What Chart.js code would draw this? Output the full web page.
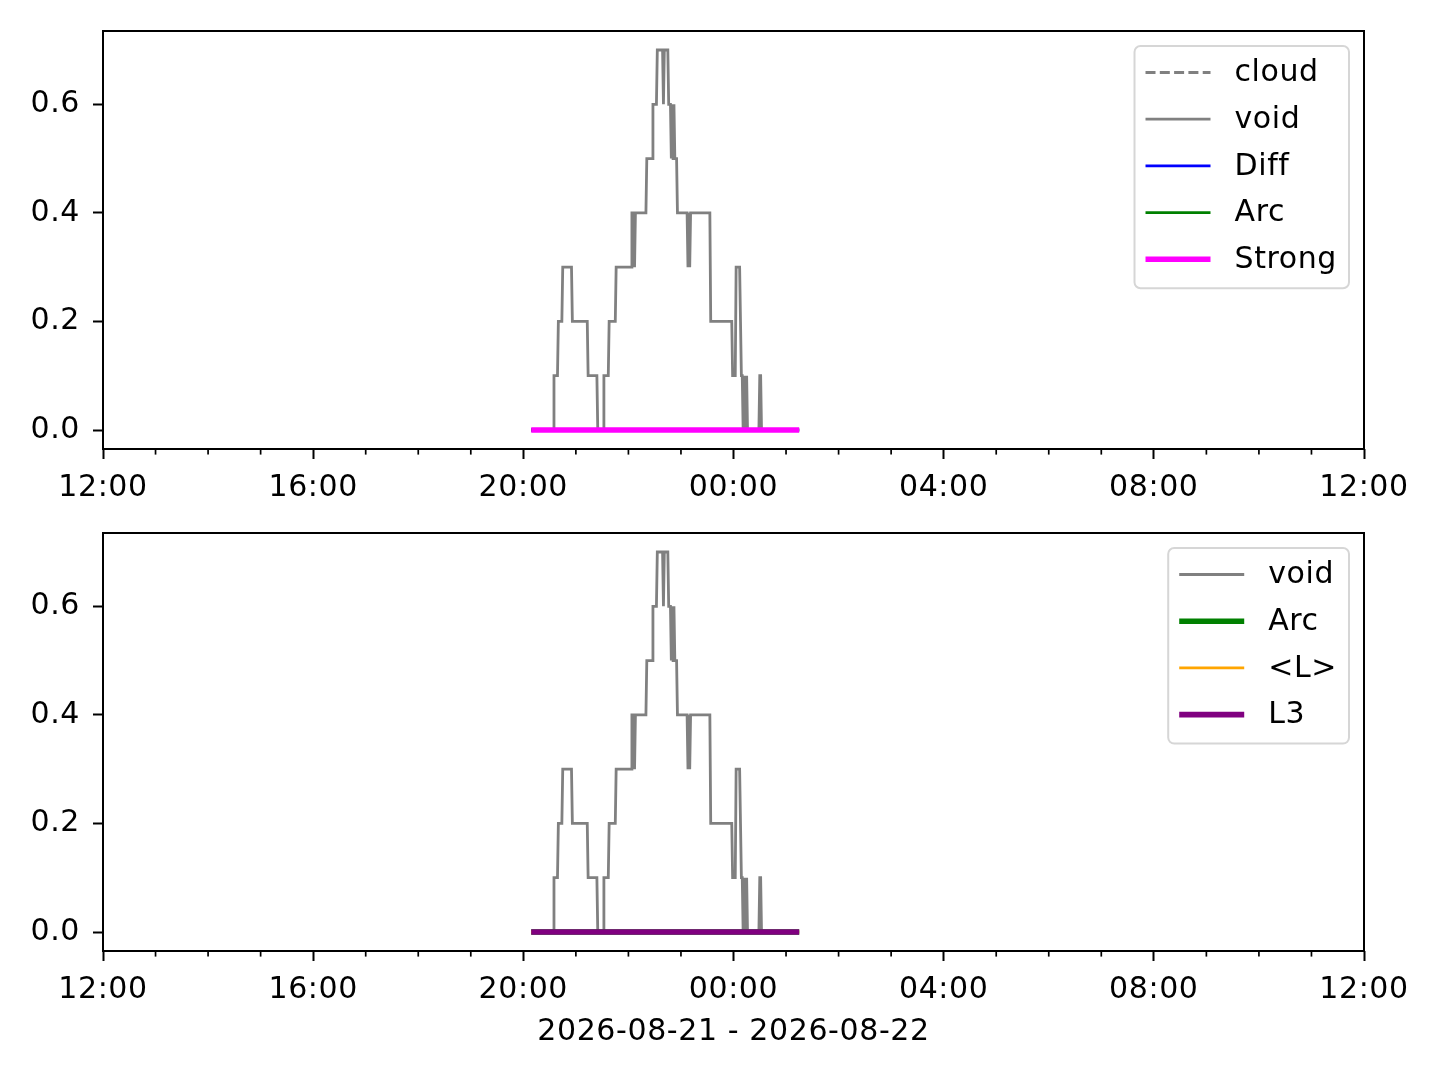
<!DOCTYPE html>
<html>
<head>
<meta charset="utf-8">
<script src="https://cdn.jsdelivr.net/npm/chart.js@4.4.1/dist/chart.umd.min.js"></script>
<style>
  html, body { margin: 0; padding: 0; background: #fff; }
  body { width: 1440px; height: 1080px; position: relative; overflow: hidden; }
  canvas { position: absolute; left: 0; }
  #topChart { top: 0; }
  #bottomChart { top: 520px; }
</style>
</head>
<body>
<canvas id="topChart" width="1440" height="520"></canvas>
<canvas id="bottomChart" width="1440" height="560"></canvas>
<script>
// time axis in minutes after 12:00 (window is 12:00 -> 12:00 next day)
const T0 = 480; // 20:00
const xTickMinutes = [0, 240, 480, 720, 960, 1200, 1440];
const xTickLabels = ["12:00", "16:00", "20:00", "00:00", "04:00", "08:00", "12:00"];
const yTicks = [0, 0.2, 0.4, 0.6];
const yTickLabels = ["0.0", "0.2", "0.4", "0.6"];
const xTitle = "2026-08-21 - 2026-08-22";

// void series, corner points (minutes after 20:00)
const voidMinutes = [
  9, 34, 35, 39, 40, 44, 45, 55, 56, 73, 74, 84, 85, 91, 92, 97, 98, 105, 106,
  123, 124, 126, 127, 128, 140, 141, 147, 148, 152, 153, 159, 160, 161, 165,
  166, 168, 169, 170, 171, 172, 173, 175, 176, 187, 188, 189, 190, 191, 213,
  214, 238, 239, 242, 243, 247, 248, 249, 250, 251, 252, 253, 254, 255, 256,
  269, 270, 271, 272, 315,
];
const voidValues = [
  0, 0, 0.1, 0.1, 0.2, 0.2, 0.3, 0.3, 0.2, 0.2, 0.1, 0.1, 0, 0, 0.1, 0.1, 0.2, 0.2, 0.3,
  0.3, 0.4, 0.4, 0.3, 0.4, 0.4, 0.5, 0.5, 0.6, 0.6, 0.7, 0.7, 0.6, 0.7, 0.7,
  0.6, 0.6, 0.5, 0.6, 0.5, 0.6, 0.5, 0.5, 0.4, 0.4, 0.3, 0.4, 0.3, 0.4, 0.4,
  0.2, 0.2, 0.1, 0.1, 0.3, 0.3, 0.2, 0.1, 0.1, 0, 0.1, 0.1, 0, 0.1, 0,
  0, 0.1, 0.1, 0, 0,
];

// the flag series sit flat on zero over the same span
const flatMinutes = [9, 315];
const flatValues = [0, 0];

const FONT = "'DejaVu Sans', sans-serif";
const FS = 30;
const SPACING = "0.6px"; // matplotlib's glyph advance is a bit wider

function points(mins, vals) {
  return mins.map((m, i) => ({ x: T0 + m, y: vals[i] }));
}

function line(label, color, width, mins, vals, dash) {
  return {
    label: label,
    data: points(mins, vals),
    borderColor: color,
    backgroundColor: color,
    borderWidth: width,
    borderDash: dash || [],
    pointRadius: 0,
    tension: 0,
    fill: false,
  };
}

const spacingPlugin = {
  id: "spacing",
  beforeDraw(chart) {
    chart.ctx.letterSpacing = SPACING;
  },
};

// frame + minor hour ticks
const framePlugin = {
  id: "frame",
  afterDraw(chart) {
    const { ctx, chartArea: a } = chart;
    const xs = chart.scales.x;
    ctx.save();
    ctx.strokeStyle = "#000";
    ctx.lineWidth = 1.7;
    for (let h = 0; h <= 24; h++) {
      if (h % 4 === 0) continue;
      const px = xs.getPixelForValue(h * 60);
      ctx.beginPath();
      ctx.moveTo(px, a.bottom);
      ctx.lineTo(px, a.bottom + 5.6);
      ctx.stroke();
    }
    ctx.lineWidth = 2;
    ctx.strokeRect(a.left, a.top, a.right - a.left, a.bottom - a.top);
    ctx.restore();
  },
};

// matplotlib style legend box, upper right
const legendPlugin = {
  id: "mplLegend",
  afterDraw(chart) {
    const { ctx, chartArea: a } = chart;
    const ds = chart.data.datasets;
    ctx.save();
    ctx.letterSpacing = SPACING;
    ctx.font = FS + "px " + FONT;
    const textW = Math.max(...ds.map((d) => ctx.measureText(d.label).width));
    const w = 11 + 65 + 24 + textW + 12;
    const rowH = 46.7;
    const h = 26.5 + rowH * (ds.length - 1) + 29;
    const x = a.right - 15 - w;
    const y = a.top + 15;
    ctx.beginPath();
    ctx.roundRect(x, y, w, h, 6);
    ctx.fillStyle = "rgba(255,255,255,0.8)";
    ctx.fill();
    ctx.strokeStyle = "#d6d6d6";
    ctx.lineWidth = 2;
    ctx.stroke();
    ds.forEach((d, i) => {
      const cy = y + 26.5 + i * rowH;
      ctx.beginPath();
      ctx.setLineDash(d.borderDash);
      ctx.strokeStyle = d.borderColor;
      ctx.lineWidth = d.borderWidth;
      ctx.moveTo(x + 11, cy);
      ctx.lineTo(x + 76, cy);
      ctx.stroke();
      ctx.setLineDash([]);
      ctx.fillStyle = "#000";
      ctx.textBaseline = "middle";
      ctx.fillText(d.label, x + 100, cy + 1);
    });
    ctx.restore();
  },
};

function makeChart(canvasId, datasets, pad, axisH, withTitle) {
  // later series drawn on top, like the original plot order
  datasets.forEach((d, i) => (d.order = datasets.length - 1 - i));
  return new Chart(document.getElementById(canvasId), {
    type: "line",
    data: { datasets: datasets },
    plugins: [spacingPlugin, framePlugin, legendPlugin],
    options: {
      responsive: false,
      animation: false,
      events: [],
      layout: { padding: pad },
      plugins: { legend: { display: false }, tooltip: { enabled: false } },
      scales: {
        x: {
          type: "linear",
          min: 0,
          max: 1440,
          afterBuildTicks: (s) => (s.ticks = xTickMinutes.map((v) => ({ value: v }))),
          afterFit: (s) => {
            s.height = axisH;
            s.paddingLeft = 0;
            s.paddingRight = 0;
          },
          ticks: {
            autoSkip: false,
            maxRotation: 0,
            padding: 11,
            color: "#000",
            font: { family: FONT, size: FS },
            callback: (v, i) => xTickLabels[i],
          },
          grid: { drawOnChartArea: false, drawTicks: true, tickLength: 10, tickColor: "#000", tickWidth: 2 },
          border: { display: false },
          title: {
            display: withTitle,
            text: xTitle,
            color: "#000",
            font: { family: FONT, size: FS },
            padding: { top: 0, bottom: 30 },
          },
        },
        y: {
          type: "linear",
          min: -0.035,
          max: 0.735,
          afterBuildTicks: (s) => (s.ticks = yTicks.map((v) => ({ value: v }))),
          afterFit: (s) => {
            s.width = 103;
            s.paddingTop = 0;
            s.paddingBottom = 0;
          },
          ticks: {
            padding: 13,
            color: "#000",
            font: { family: FONT, size: FS },
            callback: (v, i) => yTickLabels[i],
          },
          grid: { drawOnChartArea: false, drawTicks: true, tickLength: 10, tickColor: "#000", tickWidth: 2 },
          border: { display: false },
        },
      },
    },
  });
}

makeChart(
  "topChart",
  [
    line("cloud", "#808080", 2.8, flatMinutes, flatValues, [10, 4.3]),
    line("void", "#808080", 2.8, voidMinutes, voidValues),
    line("Diff", "#0000ff", 2.8, flatMinutes, flatValues),
    line("Arc", "#008000", 2.8, flatMinutes, flatValues),
    line("Strong", "#ff00ff", 5.6, flatMinutes, flatValues),
  ],
  { left: 0, right: 76, top: 31, bottom: 0 },
  71,
  false
);

makeChart(
  "bottomChart",
  [
    line("void", "#808080", 2.8, voidMinutes, voidValues),
    line("Arc", "#008000", 5.6, flatMinutes, flatValues),
    line("<L>", "#ffa500", 2.8, flatMinutes, flatValues),
    line("L3", "#800080", 5.6, flatMinutes, flatValues),
  ],
  { left: 0, right: 76, top: 13, bottom: 0 },
  129,
  true
);
</script>
</body>
</html>
